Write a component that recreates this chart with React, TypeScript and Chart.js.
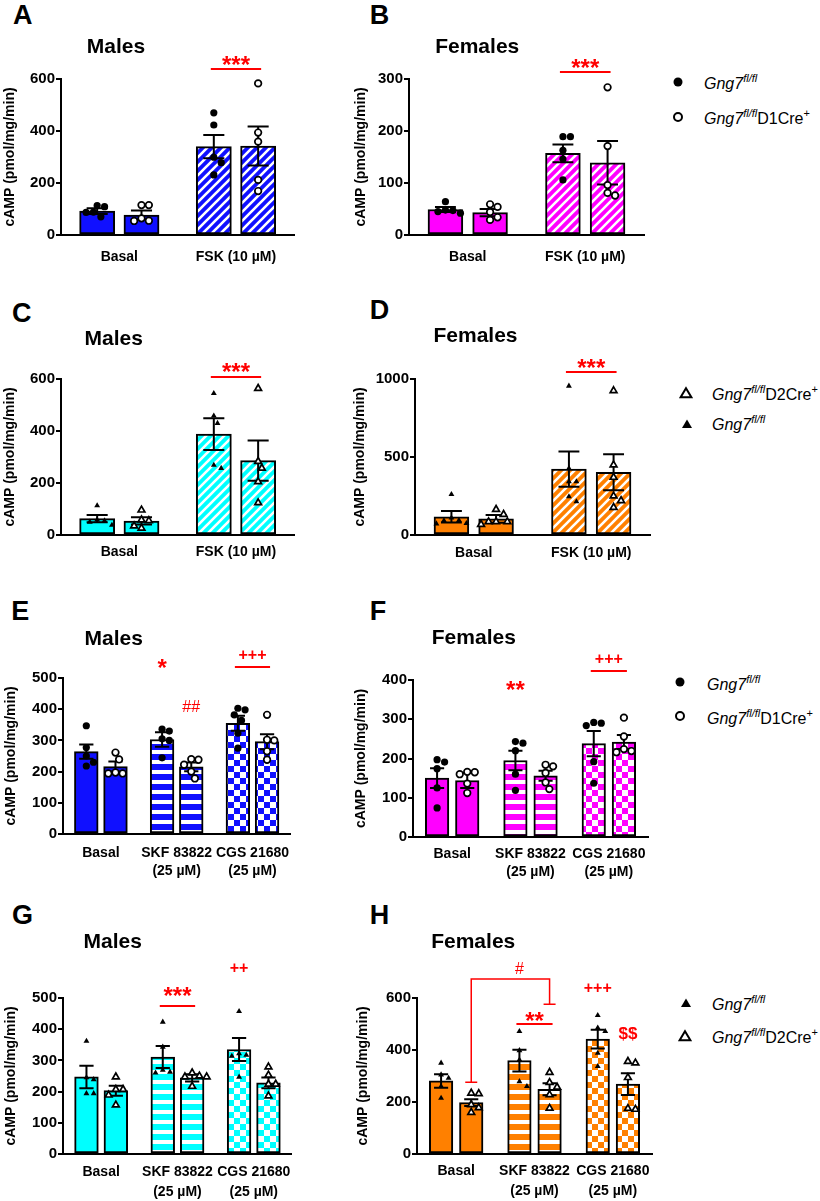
import React, { useEffect, useRef } from 'react';
import { Chart, registerables } from 'chart.js';

Chart.register(...registerables);

const FONT = '"Liberation Sans", Arial, Helvetica, sans-serif';
const BLUE = '#1010ff';
const MAGENTA = '#ff00ff';
const CYAN = '#00ffff';
const ORANGE = '#ff8000';
const RED = '#ff0000';

const Y_TITLE = 'cAMP (pmol/mg/min)';
const CATS_FSK = ['Basal', 'FSK (10 µM)'];
const CATS_DRUG = ['Basal', ['SKF 83822', '(25 µM)'], ['CGS 21680', '(25 µM)']];
const FILLS_FSK = ['solid', 'diag'];
const FILLS_DRUG = ['solid', 'hstripe', 'checker'];

// ---- Panel A (Males, D1) ----
const A_MEAN_WT = [92, 340];
const A_SEM_WT = [11, 45];
const A_MEAN_KO = [77, 342];
const A_SEM_KO = [17, 75];
const A_PTS_WT = [[109, 113, 87, 88, 70], [470, 423, 299, 278, 231]];
const A_PTS_KO = [[54, 115, 115, 64, 55], [583, 394, 359, 212, 169]];
const A_SIG = [
  { kind: 'line', cat: 1, y: 638 },
  { kind: 'text', text: '***', cat: 1, bar: -1, y: 677 },
];

// ---- Panel B (Females, D1) ----
const B_MEAN_WT = [49, 157];
const B_SEM_WT = [5, 17];
const B_MEAN_KO = [43, 139];
const B_SEM_KO = [7, 42];
const B_PTS_WT = [[42, 64, 48, 47, 45], [189, 189, 163, 146, 106]];
const B_PTS_KO = [[59, 54, 29, 34, 44], [284, 171, 96, 76, 81]];
const B_SIG = [
  { kind: 'line', cat: 1, y: 313 },
  { kind: 'text', text: '***', cat: 1, bar: -1, y: 333 },
];

// ---- Panel C (Males, D2) ----
const C_MEAN_WT = [63, 388];
const C_SEM_WT = [14, 61];
const C_MEAN_KO = [54, 286];
const C_SEM_KO = [14, 77];
const C_PTS_WT = [[113, 38, 55, 58, 50], [545, 458, 430, 257, 269]];
const C_PTS_KO = [[96, 58, 26, 55, 35], [564, 257, 283, 205, 124]];
const C_SIG = [
  { kind: 'line', cat: 1, y: 608 },
  { kind: 'text', text: '***', cat: 1, bar: -1, y: 650 },
];

// ---- Panel D (Females, D2) ----
const D_MEAN_WT = [117, 423];
const D_SEM_WT = [37, 113];
const D_MEAN_KO = [103, 402];
const D_SEM_KO = [25, 115];
const D_PTS_WT = [[261, 75, 95, 110, 92, 72], [955, 427, 342, 342, 214, 246]];
const D_PTS_KO = [[164, 132, 68, 85, 85, 85], [925, 449, 370, 250, 220, 177]];
const D_SIG = [
  { kind: 'line', cat: 1, y: 1045 },
  { kind: 'text', text: '***', cat: 1, bar: -1, y: 1109 },
];

// ---- Panel E (Males, D1) ----
const E_MEAN_WT = [264, 303, 355];
const E_SEM_WT = [23, 23, 24];
const E_MEAN_KO = [216, 215, 296];
const E_SEM_KO = [16, 14, 24];
const E_PTS_WT = [[347, 277, 250, 230, 218], [336, 330, 305, 300, 244], [398, 403, 382, 364, 323, 275]];
const E_PTS_KO = [[261, 239, 194, 194, 197], [240, 222, 238, 200, 178], [382, 302, 300, 265, 238]];
const E_SIG = [
  { kind: 'text', text: '*', cat: 1, bar: 0, y: 551 },
  { kind: 'text', text: '##', cat: 1, bar: 1, y: 408 },
  { kind: 'text', text: '+++', cat: 2, bar: -1, y: 577 },
  { kind: 'line', cat: 2, y: 536 },
];

// ---- Panel F (Females, D1) ----
const F_MEAN_WT = [150, 195, 238];
const F_SEM_WT = [25, 25, 32];
const F_MEAN_KO = [144, 156, 242];
const F_SEM_KO = [19, 13, 18];
const F_PTS_WT = [[197, 191, 174, 125, 74], [243, 239, 220, 160, 119], [290, 292, 284, 192, 137]];
const F_PTS_KO = [[165, 160, 166, 136, 112], [184, 180, 163, 122, 139], [304, 216, 256, 224, 219]];
const F_SIG = [
  { kind: 'text', text: '**', cat: 1, bar: 0, y: 388 },
  { kind: 'text', text: '+++', cat: 2, bar: -1, y: 454 },
  { kind: 'line', cat: 2, y: 423 },
];

// ---- Panel G (Males, D2) ----
const G_MEAN_WT = [247, 311, 335];
const G_SEM_WT = [36, 35, 37];
const G_MEAN_KO = [203, 244, 228];
const G_SEM_KO = [16, 12, 17];
const G_PTS_WT = [[362, 239, 194, 194, 245], [423, 343, 260, 269, 263], [457, 322, 317, 314, 247]];
const G_PTS_KO = [[247, 207, 207, 189, 157], [247, 260, 247, 217, 250], [279, 253, 224, 224, 186]];
const G_SIG = [
  { kind: 'text', text: '***', cat: 1, bar: -1, y: 525 },
  { kind: 'line', cat: 1, y: 475 },
  { kind: 'text', text: '++', cat: 2, bar: 0, y: 598 },
];

// ---- Panel H (Females, D2) ----
const H_MEAN_WT = [281, 359, 442];
const H_SEM_WT = [26, 42, 36];
const H_MEAN_KO = [198, 249, 269];
const H_SEM_KO = [13, 23, 42];
const H_PTS_WT = [[350, 292, 305, 260, 215], [472, 398, 362, 260, 279], [533, 472, 485, 388, 337]];
const H_PTS_KO = [[232, 234, 190, 178, 160], [314, 257, 275, 228, 176], [356, 350, 294, 172, 175]];
const H_SIG = [
  { kind: 'text', text: '#', cat: 1, bar: 0, y: 714 },
  { kind: 'bracket', cat: 0, bar: 1, y: 276, cat2: 1, bar2: 1, y2: 576, top: 673 },
  { kind: 'text', text: '**', cat: 1, bar: -1, y: 532 },
  { kind: 'line', cat: 1, y: 499 },
  { kind: 'text', text: '+++', cat: 2, bar: 0, y: 642 },
  { kind: 'text', text: '$$', cat: 2, bar: 1, y: 465 },
];

const PANELS: any[] = [
  { letter: 'A', title: 'Males', cats: CATS_FSK, fills: FILLS_FSK, color: BLUE, marker: 'circle', yMax: 600, yStep: 200,
    meanWT: A_MEAN_WT, semWT: A_SEM_WT, meanKO: A_MEAN_KO, semKO: A_SEM_KO, ptsWT: A_PTS_WT, ptsKO: A_PTS_KO, sig: A_SIG,
    box: { x: 0, y: 40, w: 300, h: 240 }, yAxisW: 61, padTop: 39, padRight: 2, xAxisH: 45, titlePad: 2.1, xPad: 14, lineH: 1.2,
    letterPos: [13, 1.5], titlePos: [86.8, 34.6] },
  { letter: 'B', title: 'Females', cats: CATS_FSK, fills: FILLS_FSK, color: MAGENTA, marker: 'circle', yMax: 300, yStep: 100,
    meanWT: B_MEAN_WT, semWT: B_SEM_WT, meanKO: B_MEAN_KO, semKO: B_SEM_KO, ptsWT: B_PTS_WT, ptsKO: B_PTS_KO, sig: B_SIG,
    box: { x: 340, y: 40, w: 320, h: 240 }, yAxisW: 69, padTop: 39, padRight: 16, xAxisH: 45, titlePad: 12.6, xPad: 13.5, lineH: 1.2,
    letterPos: [369.7, 1.5], titlePos: [435.2, 34.6] },
  { letter: 'C', title: 'Males', cats: CATS_FSK, fills: FILLS_FSK, color: CYAN, marker: 'triangle', yMax: 600, yStep: 200,
    meanWT: C_MEAN_WT, semWT: C_SEM_WT, meanKO: C_MEAN_KO, semKO: C_SEM_KO, ptsWT: C_PTS_WT, ptsKO: C_PTS_KO, sig: C_SIG,
    box: { x: 0, y: 345, w: 300, h: 220 }, yAxisW: 61, padTop: 34, padRight: 2, xAxisH: 30, titlePad: 1.6, xPad: 8.5, lineH: 1.2,
    letterPos: [12, 300], titlePos: [84.5, 327.3] },
  { letter: 'D', title: 'Females', cats: CATS_FSK, fills: FILLS_FSK, color: ORANGE, marker: 'triangle', yMax: 1000, yStep: 500,
    meanWT: D_MEAN_WT, semWT: D_SEM_WT, meanKO: D_MEAN_KO, semKO: D_SEM_KO, ptsWT: D_PTS_WT, ptsKO: D_PTS_KO, sig: D_SIG,
    box: { x: 340, y: 345, w: 320, h: 220 }, yAxisW: 75, padTop: 34, padRight: 10, xAxisH: 30, titlePad: 11.6, xPad: 10, lineH: 1.2,
    letterPos: [369.7, 296.5], titlePos: [433.5, 324] },
  { letter: 'E', title: 'Males', cats: CATS_DRUG, fills: FILLS_DRUG, color: BLUE, marker: 'circle', yMax: 500, yStep: 100,
    meanWT: E_MEAN_WT, semWT: E_SEM_WT, meanKO: E_MEAN_KO, semKO: E_SEM_KO, ptsWT: E_PTS_WT, ptsKO: E_PTS_KO, sig: E_SIG,
    box: { x: 0, y: 640, w: 300, h: 245 }, yAxisW: 63, padTop: 38, padRight: 0, xAxisH: 51, titlePad: 3.1, xPad: 10, lineH: 1.3,
    letterPos: [11.3, 598.2], titlePos: [84.5, 627.3] },
  { letter: 'F', title: 'Females', cats: CATS_DRUG, fills: FILLS_DRUG, color: MAGENTA, marker: 'circle', yMax: 400, yStep: 100,
    meanWT: F_MEAN_WT, semWT: F_SEM_WT, meanKO: F_MEAN_KO, semKO: F_SEM_KO, ptsWT: F_PTS_WT, ptsKO: F_PTS_KO, sig: F_SIG,
    box: { x: 340, y: 640, w: 320, h: 245 }, yAxisW: 73, padTop: 40, padRight: 12, xAxisH: 48, titlePad: 13.1, xPad: 8, lineH: 1.3,
    letterPos: [369.7, 598.2], titlePos: [431.8, 626.3] },
  { letter: 'G', title: 'Males', cats: CATS_DRUG, fills: FILLS_DRUG, color: CYAN, marker: 'triangle', yMax: 500, yStep: 100,
    meanWT: G_MEAN_WT, semWT: G_SEM_WT, meanKO: G_MEAN_KO, semKO: G_SEM_KO, ptsWT: G_PTS_WT, ptsKO: G_PTS_KO, sig: G_SIG,
    box: { x: 0, y: 950, w: 300, h: 251 }, yAxisW: 63, padTop: 48, padRight: 0, xAxisH: 47, titlePad: 3.1, xPad: 8.7, lineH: 1.4,
    letterPos: [12, 901.5], titlePos: [83.5, 930.3] },
  { letter: 'H', title: 'Females', cats: CATS_DRUG, fills: FILLS_DRUG, color: ORANGE, marker: 'triangle', yMax: 600, yStep: 200,
    meanWT: H_MEAN_WT, semWT: H_SEM_WT, meanKO: H_MEAN_KO, semKO: H_SEM_KO, ptsWT: H_PTS_WT, ptsKO: H_PTS_KO, sig: H_SIG,
    box: { x: 340, y: 950, w: 320, h: 251 }, yAxisW: 77, padTop: 48, padRight: 8, xAxisH: 47, titlePad: 15.1, xPad: 7.7, lineH: 1.4,
    letterPos: [369.7, 901.5], titlePos: [431.2, 930.3] },
];

const LEGENDS = [
  { marker: 'fcircle', mx: 678, my: 82.3, tx: 704, ty: 75.8, cre: '' },
  { marker: 'ocircle', mx: 678, my: 117.3, tx: 704, ty: 110.5, cre: 'D1Cre' },
  { marker: 'otri', mx: 686, my: 393.3, tx: 712, ty: 386.5, cre: 'D2Cre' },
  { marker: 'ftri', mx: 687, my: 424.3, tx: 712, ty: 417.2, cre: '' },
  { marker: 'fcircle', mx: 680, my: 681.7, tx: 707, ty: 676.5, cre: '' },
  { marker: 'ocircle', mx: 680, my: 715.7, tx: 707, ty: 710.5, cre: 'D1Cre' },
  { marker: 'ftri', mx: 686, my: 1002.7, tx: 712, ty: 997, cre: '' },
  { marker: 'otri', mx: 685, my: 1036, tx: 712, ty: 1029.8, cre: 'D2Cre' },
];

function swarm(vals: number[], pxY: number): number[] {
  const order = vals.map((_, i) => i).sort((a, b) => vals[b] - vals[a]);
  const placed: { x: number; y: number }[] = [];
  const out = new Array(vals.length).fill(0);
  const D = 7.5, S = 3.75;
  for (const i of order) {
    const y = vals[i] * pxY;
    for (let k = 0; k < 40; k++) {
      const m = Math.ceil(k / 2) * (k % 2 ? 1 : -1);
      const x = m * S;
      if (placed.every((p) => Math.hypot(p.x - x, p.y - y) >= D)) {
        out[i] = x;
        placed.push({ x, y });
        break;
      }
    }
  }
  return out;
}

function makeFill(kind: string, color: string, ctx: CanvasRenderingContext2D): any {
  if (kind === 'solid') return color;
  const c = document.createElement('canvas');
  const g = c.getContext('2d')!;
  if (kind === 'diag') {
    const s = 9;
    c.width = s; c.height = s;
    g.fillStyle = color; g.fillRect(0, 0, s, s);
    g.strokeStyle = '#fff'; g.lineWidth = 2.6;
    g.beginPath();
    for (const o of [-s, 0, s]) { g.moveTo(o - 1, s + 1); g.lineTo(o + s + 1, -1); }
    g.stroke();
  } else if (kind === 'hstripe') {
    c.width = 4; c.height = 10;
    g.fillStyle = color; g.fillRect(0, 0, 4, 10);
    g.fillStyle = '#fff'; g.fillRect(0, 0, 4, 4);
  } else {
    c.width = 12; c.height = 12;
    g.fillStyle = color; g.fillRect(0, 0, 12, 12);
    g.fillStyle = '#fff'; g.fillRect(0, 0, 6, 6); g.fillRect(6, 6, 6, 6);
  }
  return ctx.createPattern(c, 'repeat');
}

const errorBars = {
  id: 'errorBars',
  afterDatasetDraw(chart: any, args: any) {
    const ds: any = chart.data.datasets[args.index];
    if (!ds.sem) return;
    const ys = chart.scales.y;
    const ctx = chart.ctx;
    ctx.save();
    ctx.strokeStyle = '#000';
    ctx.lineWidth = 2;
    args.meta.data.forEach((el: any, j: number) => {
      const m = ds.data[j].y, s = ds.sem[j];
      const half = el.width * 0.3;
      const yt = ys.getPixelForValue(m + s);
      const yb = ys.getPixelForValue(Math.max(0, m - s));
      ctx.beginPath();
      ctx.moveTo(el.x, yt); ctx.lineTo(el.x, yb);
      ctx.moveTo(el.x - half, yt); ctx.lineTo(el.x + half, yt);
      ctx.moveTo(el.x - half, yb); ctx.lineTo(el.x + half, yb);
      ctx.stroke();
    });
    ctx.restore();
  },
};

function glyphStyle(t: string) {
  if (t.includes('*')) return { size: 24, weight: 'bold', k: 0.57 };
  if (t.includes('#')) return { size: 16, weight: 'normal', k: 0.36 };
  if (t.includes('$')) return { size: 17, weight: 'bold', k: 0.35 };
  return { size: 16, weight: 'bold', k: 0.35 };
}

function makeSigPlugin(items: any[]) {
  return {
    id: 'sigMarks',
    afterDraw(chart: any) {
      const ctx = chart.ctx;
      const ys = chart.scales.y;
      const bars = [chart.getDatasetMeta(2), chart.getDatasetMeta(3)];
      const bx = (cat: number, bar: number) =>
        bar < 0 ? (bars[0].data[cat].x + bars[1].data[cat].x) / 2 : bars[bar].data[cat].x;
      ctx.save();
      ctx.strokeStyle = RED;
      ctx.fillStyle = RED;
      for (const it of items) {
        if (it.kind === 'line') {
          const y = Math.round(ys.getPixelForValue(it.y));
          ctx.lineWidth = 2;
          ctx.beginPath();
          ctx.moveTo(bx(it.cat, 0) - 3, y);
          ctx.lineTo(bx(it.cat, 1) + 3, y);
          ctx.stroke();
        } else if (it.kind === 'text') {
          const st = glyphStyle(it.text);
          ctx.font = `${st.weight} ${st.size}px ${FONT}`;
          ctx.textAlign = 'center';
          ctx.textBaseline = 'alphabetic';
          ctx.fillText(it.text, bx(it.cat, it.bar), ys.getPixelForValue(it.y) + st.k * st.size);
        } else if (it.kind === 'bracket') {
          const x1 = bx(it.cat, it.bar), x2 = bx(it.cat2, it.bar2);
          const y1 = ys.getPixelForValue(it.y), y2 = ys.getPixelForValue(it.y2), yt = ys.getPixelForValue(it.top);
          ctx.lineWidth = 1.5;
          ctx.beginPath();
          ctx.moveTo(x1, y1); ctx.lineTo(x1, yt); ctx.lineTo(x2, yt); ctx.lineTo(x2, y2);
          ctx.moveTo(x1 - 6, y1); ctx.lineTo(x1 + 6, y1);
          ctx.moveTo(x2 - 6, y2); ctx.lineTo(x2 + 6, y2);
          ctx.stroke();
        }
      }
      ctx.restore();
    },
  };
}

function Panel({ p }: { p: any }) {
  const ref = useRef<HTMLCanvasElement>(null);
  useEffect(() => {
    const canvas = ref.current!;
    const ctx = canvas.getContext('2d')!;
    const n = p.cats.length;
    const catPct = n === 2 ? 0.76 : 0.77;
    const barPct = 0.78;
    const plotH = p.box.h - p.padTop - p.xAxisH;
    const plotW = p.box.w - p.yAxisW - p.padRight;
    const pxY = plotH / p.yMax;
    const pxCat = plotW / n;
    const barW = pxCat * (catPct / 2) * barPct;
    const barX = (c: number, bar: number) => c + (bar === 0 ? -1 : 1) * (catPct / 4);
    const buildPts = (pts: number[][], bar: number) => {
      const out: any[] = [];
      pts.forEach((vals, c) => {
        const off = swarm(vals, pxY);
        vals.forEach((v, i) => out.push({ x: barX(c, bar) + off[i] / pxCat, y: v }));
      });
      return out;
    };
    const buildBars = (means: number[], bar: number) => means.map((m, c) => ({ x: barX(c, bar), y: m }));
    const fills = p.fills.map((k: string) => makeFill(k, p.color, ctx));
    const isTri = p.marker === 'triangle';
    const tickFont = { family: FONT, size: 15, weight: 'bold' };
    const barCommon = {
      type: 'bar', xAxisID: 'x', yAxisID: 'y', order: 2, grouped: false, barThickness: barW,
      backgroundColor: fills, borderColor: '#000', borderWidth: 2, borderSkipped: false,
    };
    const chart = new Chart(canvas, {
      type: 'bar',
      data: {
        datasets: [
          {
            type: 'scatter', label: 'Gng7 fl/fl points', data: buildPts(p.ptsWT, 0), xAxisID: 'x', yAxisID: 'y', order: 1,
            pointStyle: p.marker, pointRadius: isTri ? 3.4 : 3.6, backgroundColor: '#000', borderColor: '#000', borderWidth: 0, clip: false,
          },
          {
            type: 'scatter', label: 'Cre points', data: buildPts(p.ptsKO, 1), xAxisID: 'x', yAxisID: 'y', order: 1,
            pointStyle: p.marker, pointRadius: isTri ? 3.9 : 3.3, backgroundColor: '#fff', borderColor: '#000', borderWidth: 1.7, clip: false,
          },
          { ...barCommon, label: 'Gng7 fl/fl', data: buildBars(p.meanWT, 0), sem: p.semWT },
          { ...barCommon, label: 'Cre', data: buildBars(p.meanKO, 1), sem: p.semKO },
        ] as any,
      },
      options: {
        animation: false,
        responsive: false,
        devicePixelRatio: 1,
        events: [],
        layout: { padding: { top: p.padTop, right: p.padRight, bottom: 0, left: 0 } },
        plugins: { legend: { display: false }, tooltip: { enabled: false } },
        scales: {
          x: {
            type: 'linear', min: -0.5, max: n - 0.5, offset: false,
            grid: { display: false, drawTicks: false },
            border: { display: true, color: '#000', width: 2 },
            afterBuildTicks: (s: any) => { s.ticks = p.cats.map((_: any, i: number) => ({ value: i })); },
            ticks: {
              color: '#000', padding: p.xPad, maxRotation: 0, minRotation: 0, autoSkip: false,
              font: { family: FONT, size: 14, weight: 'bold', lineHeight: p.lineH },
              callback: (v: any) => p.cats[Math.round(v)],
            },
            afterFit: (s: any) => { s.height = p.xAxisH; },
          },
          y: {
            type: 'linear', min: 0, max: p.yMax,
            ticks: { stepSize: p.yStep, color: '#000', padding: 1, font: tickFont, callback: (v: any) => String(v) },
            grid: { drawOnChartArea: false, drawTicks: true, tickLength: 5, color: '#000', lineWidth: 2 },
            border: { display: true, color: '#000', width: 2 },
            title: {
              display: true, text: Y_TITLE, color: '#000',
              font: { family: FONT, size: 14, weight: 'bold', lineHeight: 1.2 },
              padding: { top: p.titlePad, bottom: 0 },
            },
            afterFit: (s: any) => { s.width = p.yAxisW; },
          },
        },
      } as any,
      plugins: [errorBars, makeSigPlugin(p.sig)],
    });
    return () => chart.destroy();
  }, []);
  return (
    <>
      <canvas
        ref={ref}
        width={p.box.w}
        height={p.box.h}
        style={{ position: 'absolute', left: p.box.x, top: p.box.y, width: p.box.w, height: p.box.h }}
      />
      <div style={{ position: 'absolute', left: p.letterPos[0], top: p.letterPos[1], fontSize: 27, lineHeight: '27px', fontWeight: 'bold', whiteSpace: 'nowrap' }}>
        {p.letter}
      </div>
      <div style={{ position: 'absolute', left: p.titlePos[0], top: p.titlePos[1], fontSize: 21, lineHeight: '21px', fontWeight: 'bold', whiteSpace: 'nowrap' }}>
        {p.title}
      </div>
    </>
  );
}

function Marker({ kind, cx, cy }: { kind: string; cx: number; cy: number }) {
  return (
    <svg width={14} height={14} style={{ position: 'absolute', left: cx - 7, top: cy - 7 }}>
      {kind === 'fcircle' && <circle cx={7} cy={7} r={4.5} fill="#000" />}
      {kind === 'ocircle' && <circle cx={7} cy={7} r={4} fill="#fff" stroke="#000" strokeWidth={2} />}
      {kind === 'ftri' && <polygon points="7,2.5 12,11 2,11" fill="#000" />}
      {kind === 'otri' && <polygon points="7,2.2 12.4,11.3 1.6,11.3" fill="#fff" stroke="#000" strokeWidth={2} />}
    </svg>
  );
}

const supStyle: any = { fontSize: 11, position: 'relative', top: -7 };

function LegendItem({ it }: { it: any }) {
  return (
    <>
      <Marker kind={it.marker} cx={it.mx} cy={it.my} />
      <div style={{ position: 'absolute', left: it.tx, top: it.ty, fontSize: 16, lineHeight: '16px', whiteSpace: 'nowrap' }}>
        <i>Gng7<span style={supStyle}>fl/fl</span></i>
        {it.cre ? (
          <>
            {it.cre}
            <span style={supStyle}>+</span>
          </>
        ) : null}
      </div>
    </>
  );
}

export default function App() {
  return (
    <div
      style={{
        position: 'absolute', left: 0, top: 0, width: 820, height: 1201, background: '#fff',
        fontFamily: FONT, color: '#000', overflow: 'hidden',
      }}
    >
      {PANELS.map((p) => (
        <Panel key={p.letter} p={p} />
      ))}
      {LEGENDS.map((it, i) => (
        <LegendItem key={i} it={it} />
      ))}
    </div>
  );
}
